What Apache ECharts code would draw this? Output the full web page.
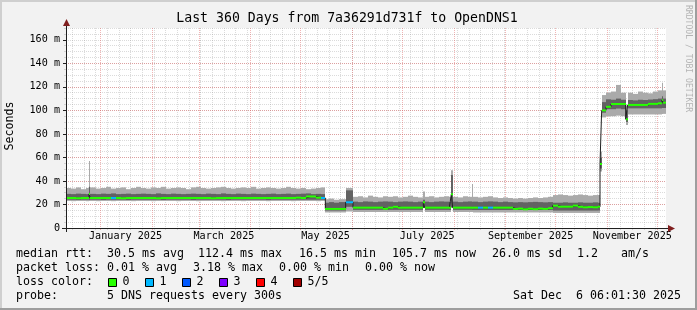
<!DOCTYPE html>
<html><head><meta charset="utf-8">
<script src="https://cdn.jsdelivr.net/npm/echarts@6/dist/echarts.min.js"></script>
<style>html,body{margin:0;padding:0;background:#f2f2f2}#c{width:697px;height:310px}</style>
</head><body><div id="c"></div>
<script>
// ---------------- DATA (days since start of 360-day window, Dec 11 2024) ----------------
const days = [0,3,6,9,12,
 13.8,
 14.6,18,21,24,27,30,33,36,39,42,45,48,51,54,57,60,63,66,69,72,75,78,81,84,87,90,93,96,99,102,105,108,111,114,117,120,123,126,129,132,135,138,141,144,147,150,153,
 155.6,158,161,164,
 167.8,
 172.2,175,178,181,184,187,190,193,196,199,202,205,208,211,
 214.4,
 215.2,218,221,224,227,230,
 231.2,
 232,235,238,241,
 243.8,
 244.4,247,250,253,256,259,262,265,268,271,274,277,280,283,286,289,292,295,298,301,304,307,310,313,316,319,
 320.4,
 321.4,324,327,330,333,
 335.8,
 337,340,343,346,349,352,355,
 357.6,
 358.4,
 360];
// outer smoke top (ms)
const lightHi = [34,33.5,34.5,33,34,
 57,
 34.5,33.5,34,35,33.5,34,34.5,33,34,35,
 34,33.5,34.5,34,35,33.5,34,34.5,34,33,
 34.5,35,34,33.5,34,34.5,35,34,33.5,34,
 34.5,34,35,33.5,34,34.5,34,33.5,34,35,
 34,33.5,34,33,33.5,34,34.5,
 24.5,25,24,24.5,
 34,
 26.5,27,26,27.5,26.5,26,27,26.5,27,26,26.5,27.5,26.5,26,
 31,
 26.5,27,26,26.5,27,26.5,
 49,
 26.5,26,27,26.5,
 37.4,
 26.5,26,26.5,27,26,25.5,26,25.5,25,25.5,25,25.5,26,25.5,26,26.5,28,28.5,28,27.5,28,28.5,28,27.5,28,28,
 65,
 113,115,116,121.6,115,
 104,
 115,114,116,115,114.5,116,117,
 123.5,
 117,
 117];
// inner smoke top
const darkHi = [29,28.8,29.2,29,28.8,
 35,
 29,28.8,29.2,29,29.4,28.8,29,29.2,28.8,29,
 29.2,29,28.8,29.4,29,28.8,29.2,29,28.8,29,
 29.2,29,28.8,29.2,29,28.8,29.4,29,28.8,29.2,
 29,28.8,29.2,29,28.8,29,29.2,28.8,29,29.2,
 28.8,29,29.2,29.4,28.8,29,28.8,
 21.5,22,21.5,22,
 32,
 22.4,22,22.6,22.4,22,22.4,22.6,22.4,22,22.4,22.6,22.4,22,22.4,
 24,
 22.4,22,22.4,22.6,22.4,22,
 45,
 22.4,22,22.4,22.6,
 22.4,
 22.4,22,22.4,22.6,22.4,22,22.4,22,21.8,22,21.8,22,22.2,22,21.8,22,21.5,21.5,21.8,21.5,21.5,21.8,21.5,21.5,21.8,21.5,
 60,
 107,109.4,109,110,109,
 100,
 108.8,108.5,109,108.8,109.2,109.5,110,
 112,
 110,
 110];
// median rtt
const median = [25.5,25.5,25.3,25.5,25.5,
 29,
 25.5,25.5,25.5,25.5,25.5,25.5,25.3,25.5,25.5,25.5,
 25.5,25.5,25.5,25.3,25.5,25.5,25.5,25.5,25.5,25.5,
 25.5,25.5,25.5,25.5,25.3,25.5,25.5,25.5,25.5,25.5,
 25.5,25.5,25.5,25.5,25.5,25.5,25.5,25.5,25.5,25.5,
 25.5,25.8,25.5,26.8,26.8,25.8,25.5,
 16.2,16.2,16.2,16.2,
 21.9,
 17.3,17.3,17.3,17.3,17.3,17.3,16.3,17.3,18,17.3,17.3,17.3,17.3,17.3,
 21.8,
 17.3,17.3,17.3,17.3,17.3,17.3,
 28.6,
 17.3,17.3,17.3,17.3,
 17.3,
 17.3,17.3,17.3,17.3,17.3,17.3,17.3,17.3,16.2,16.5,15.9,16.4,16,16.5,16.2,16.8,19,18.1,18.1,18.1,19,18,17.6,17.8,17.6,18,
 54.4,
 100,103,105.4,105.4,105.4,
 92.4,
 104.6,104.6,104.6,104.6,105.5,105.5,106,
 108.8,
 106.5,
 106.5];
// inner smoke bottom
const darkLo = [24,24,23.8,24,24,
 23.8,
 24,24,23.8,24,24,24,24,23.8,24,24,
 24,24,24,24,23.8,24,24,24,24,24,
 23.8,24,24,24,24,24,24,23.8,24,24,
 24,24,24,24,24,23.8,24,24,24,24,
 24,24,24,24,24,24,24,
 14.8,14.8,14.8,14.8,
 18,
 15.4,15.4,15.4,15.4,15.4,15.4,15.4,15.4,15.4,15.4,15.4,15.4,15.4,15.4,
 17.3,
 15.4,15.4,15.4,15.4,15.4,15.4,
 17.5,
 15.4,15.4,15.4,15.4,
 15.4,
 15.3,15.3,15.3,15.3,15.3,15.3,15.3,15.3,15.3,15.3,15.3,15.3,15.3,15.3,15.3,15.3,14.8,14.8,14.8,14.8,14.8,14.8,14.8,14.8,14.8,14.8,
 50.5,
 98,101,101,101.5,101,
 90,
 101.7,101.7,101.7,101.7,101.7,101.7,101.7,
 102,
 102,
 102];
// outer smoke bottom
const lightLo = [23,22.8,23,23,22.8,
 23,
 23,22.8,23,23,22.8,23,23,23,22.8,23,
 23,23,22.8,23,23,23,23,22.8,23,23,
 23,22.8,23,23,23,23,22.8,23,23,23,
 22.8,23,23,23,23,22.8,23,23,23,23,
 22.8,23,23,23,23,22.8,23,
 13.2,13.2,13.2,13.2,
 14,
 13.6,13.6,13.6,13.6,13.6,13.6,13.6,13.6,13.6,13.6,13.6,13.6,13.6,13.6,
 17.3,
 13.6,13.6,13.6,13.6,13.6,13.6,
 17.5,
 13.6,13.6,13.6,13.6,
 13.6,
 13.2,13.2,13.2,13.2,13.2,13.2,13.2,13.2,13.2,13.2,13.2,13.2,13.2,13.2,13.2,13.2,12.8,12.8,12.8,12.8,12.8,12.8,12.8,12.8,12.8,12.8,
 48,
 94,95,95,95.5,95,
 87.6,
 96.5,96.5,96.5,96.5,96.5,96.5,96.5,
 97,
 97,
 97];
// lost packets (of 5) per sample
const loss = [0,0,0,0,0,
 0,
 0,0,0,0,1,0,0,0,0,0,
 0,0,0,0,0,0,0,0,0,0,
 0,0,0,0,0,0,0,0,0,0,
 0,0,0,0,0,0,0,0,0,0,
 0,0,0,0,0,0,1,
 0,0,0,0,
 1,
 0,0,0,0,0,0,0,0,0,0,0,0,0,0,
 0,
 0,0,0,0,0,0,
 0,
 0,0,0,0,
 0,
 0,1,0,1,0,0,0,0,0,0,0,0,0,0,0,0,0,0,0,0,0,0,0,0,0,0,
 0,
 0,0,0,0,0,
 0,
 0,0,0,0,0,0,0,
 0,
 0,
 0];

const monthStarts = [20.75,51.75,79.75,110.75,140.75,171.75,201.75,232.75,263.75,293.75,324.75,354.75];
const labelDays  = [35.75,94.75,155.75,216.75,278.75,339.75];
const labelText  = ['January 2025','March 2025','May 2025','July 2025','September 2025','November 2025'];
const firstSunday = 3.75;   // Dec 15 2024, weekly minor grid
const yTicks = [0,20,40,60,80,100,120,140,160];

const title = 'Last 360 Days from 7a36291d731f to OpenDNS1';
const statRows = [
  [['median rtt:',16],['30.5 ms avg',107],['112.4 ms max',198],['16.5 ms min',299],['105.7 ms now',392],['26.0 ms sd',492],['1.2',577],['am/s',621]],
  [['packet loss:',16],['0.01 % avg',107],['3.18 % max',193],['0.00 % min',279],['0.00 % now',365]],
  [['loss color:',16]],
  [['probe:',16],['5 DNS requests every 300s',107],['Sat Dec  6 06:01:30 2025',513]]
];
const lossLabels = ['0','1','2','3','4','5/5'];
const lossColors = ['#26ff00','#00b8ff','#0059ff','#7e00ff','#ff0000','#a00000'];

// ---------------- CHART ----------------
const n = days.length;
[lightHi,darkHi,median,darkLo,lightLo,loss].forEach(a=>{ if(a.length!==n) throw new Error('length mismatch '+a.length+' vs '+n); });

const weekLines = [];
for (let d = firstSunday; d < 360; d += 7) weekLines.push(d);

const FONT = 'DejaVu Sans Mono';
const LIGHT = '#aaaaaa', DARK = '#626262';
const GRIDC = 'rgba(143,143,143,0.32)', MGRIDC = 'rgba(222,79,79,0.42)';
const L = 66, T = 28, W = 600, H = 200;

const smokeData = days.map((d,i)=>[d, i<n-1?days[i+1]:360, lightLo[i], darkLo[i], median[i], darkHi[i], lightHi[i], loss[i]]);
const labelMap = {}; labelDays.forEach((d,i)=>labelMap[d]=labelText[i]);

function smokeItem(params, api){
  const x0=api.value(0), x1=api.value(1);
  const a=api.coord([x0, api.value(2)]), b=api.coord([x1, api.value(6)]);
  const c=api.coord([x0, api.value(3)]), e=api.coord([x1, api.value(5)]);
  const xa=Math.round(a[0]), xb=Math.round(b[0]);
  if (xb<=xa) return {type:'group', children:[]};
  return {type:'group', children:[
    {type:'rect', shape:{x:xa,y:b[1],width:xb-xa,height:a[1]-b[1]}, style:{fill:LIGHT}},
    {type:'rect', shape:{x:xa,y:e[1],width:xb-xa,height:c[1]-e[1]}, style:{fill:DARK}}
  ]};
}
function medItem(params, api){
  const x0=api.value(0), x1=api.value(1), m=api.value(4);
  const sw = 0.85;
  const a=api.coord([x0, m+sw]), b=api.coord([x1, m-sw]);
  const xa=Math.round(a[0]), xb=Math.round(b[0]);
  if (xb<=xa) return {type:'group', children:[]};
  return {type:'rect', shape:{x:xa,y:a[1],width:xb-xa,height:b[1]-a[1]}, style:{fill:lossColors[api.value(7)]}};
}

const graphics = [
  {type:'rect', shape:{x:0,y:0,width:697,height:2}, style:{fill:'#cfcfcf'}, silent:true},
  {type:'rect', shape:{x:0,y:0,width:2,height:310}, style:{fill:'#cfcfcf'}, silent:true},
  {type:'rect', shape:{x:0,y:308,width:697,height:2}, style:{fill:'#9e9e9e'}, silent:true},
  {type:'rect', shape:{x:695,y:0,width:2,height:310}, style:{fill:'#9e9e9e'}, silent:true},
  {type:'line', shape:{x1:62,y1:228.5,x2:670,y2:228.5}, style:{stroke:'#1f1f1f',lineWidth:1}, z:50},
  {type:'line', shape:{x1:66.5,y1:232,x2:66.5,y2:24}, style:{stroke:'#1f1f1f',lineWidth:1}, z:50},
  {type:'polygon', shape:{points:[[668,225],[675,228.5],[668,232]]}, style:{fill:'#801f1f'}, z:51},
  {type:'polygon', shape:{points:[[63,26],[66.5,19],[70,26]]}, style:{fill:'#801f1f'}, z:51},
  {type:'text', x:347, y:19, style:{text:title, fontFamily:FONT, fontSize:13.2, fill:'#000', align:'center', verticalAlign:'middle'}},
  {type:'text', x:688, y:5, rotation:-Math.PI/2, style:{text:'RRDTOOL / TOBI OETIKER', fontFamily:FONT, fontSize:8.1, fill:'#b4b4b4', align:'left', verticalAlign:'middle'}},
  {type:'text', x:10, y:126, rotation:Math.PI/2, style:{text:'Seconds', fontFamily:FONT, fontSize:11.63, fill:'#000', align:'center', verticalAlign:'middle'}}
];
const rowY = [254, 268, 282, 296];
statRows.forEach((row,r)=>row.forEach(([t,x])=>graphics.push(
  {type:'text', x:x, y:rowY[r], style:{text:t, fontFamily:FONT, fontSize:11.63, fill:'#000', align:'left', verticalAlign:'middle'}})));
lossLabels.forEach((t,i)=>{
  const sx = 108 + i*37;
  graphics.push({type:'rect', shape:{x:sx+0.5,y:278.5,width:8,height:8}, style:{fill:lossColors[i], stroke:'#000', lineWidth:1}});
  graphics.push({type:'text', x:sx+14.5, y:282, style:{text:t, fontFamily:FONT, fontSize:11.63, fill:'#000', align:'left', verticalAlign:'middle'}});
});

const chart = echarts.init(document.getElementById('c'), null, {renderer:'canvas', width:697, height:310});
chart.setOption({
  backgroundColor:'#f2f2f2',
  animation:false,
  grid:{left:L, top:T, width:W, height:H, show:true, backgroundColor:'#ffffff', borderWidth:0},
  xAxis:[
    {type:'value', min:0, max:360, position:'bottom', z:1,
     axisLine:{show:false}, axisTick:{show:false}, splitLine:{show:false},
     axisLabel:{customValues:labelDays, formatter:v=>labelMap[v]||'', margin:3, fontFamily:FONT, fontSize:10.15, color:'#000'}},
    {type:'value', min:0, max:360, position:'bottom', z:0,
     axisLine:{show:false}, axisLabel:{show:false},
     axisTick:{show:true, customValues:weekLines, length:2, inside:false, lineStyle:{color:GRIDC}},
     splitLine:{show:true, lineStyle:{color:GRIDC, width:1, type:[1,1]}}},
    {type:'value', min:0, max:360, position:'bottom', z:1,
     axisLine:{show:false}, axisLabel:{show:false},
     axisTick:{show:true, customValues:monthStarts, length:2, inside:false, lineStyle:{color:MGRIDC}},
     splitLine:{show:true, lineStyle:{color:MGRIDC, width:1, type:[1,1]}}}
  ],
  yAxis:[
    {type:'value', min:0, max:170, position:'left', z:1,
     axisLine:{show:false},
     axisTick:{show:true, customValues:yTicks, length:3, lineStyle:{color:'#1f1f1f'}},
     splitLine:{show:true, showMaxLine:false, lineStyle:{color:MGRIDC, width:1, type:[1,1]}},
     axisLabel:{customValues:yTicks, formatter:v=>v===0?'0':v+' m', margin:6, fontFamily:FONT, fontSize:10.15, color:'#000'}},
    {type:'value', min:0, max:170, interval:5, position:'left', z:0,
     axisLine:{show:false}, axisLabel:{show:false},
     axisTick:{show:true, length:2, lineStyle:{color:GRIDC}},
     splitLine:{show:true, lineStyle:{color:GRIDC, width:1, type:[1,1]}}}
  ],
  series:[
    {type:'custom', name:'smoke', xAxisIndex:0, yAxisIndex:0, z:5, renderItem:smokeItem, data:smokeData,
     encode:{x:[0,1], y:[2,6]}, silent:true},
    {type:'line', name:'median', xAxisIndex:0, yAxisIndex:0, z:6, step:'end', symbol:'none',
     data:days.map((d,i)=>[d, median[i]]), lineStyle:{color:'#202020', width:1}, silent:true},
    {type:'custom', name:'loss', xAxisIndex:0, yAxisIndex:0, z:7, renderItem:medItem, data:smokeData,
     encode:{x:[0,1], y:[4]}, silent:true}
  ],
  graphic:graphics
});
</script>
</body></html>
